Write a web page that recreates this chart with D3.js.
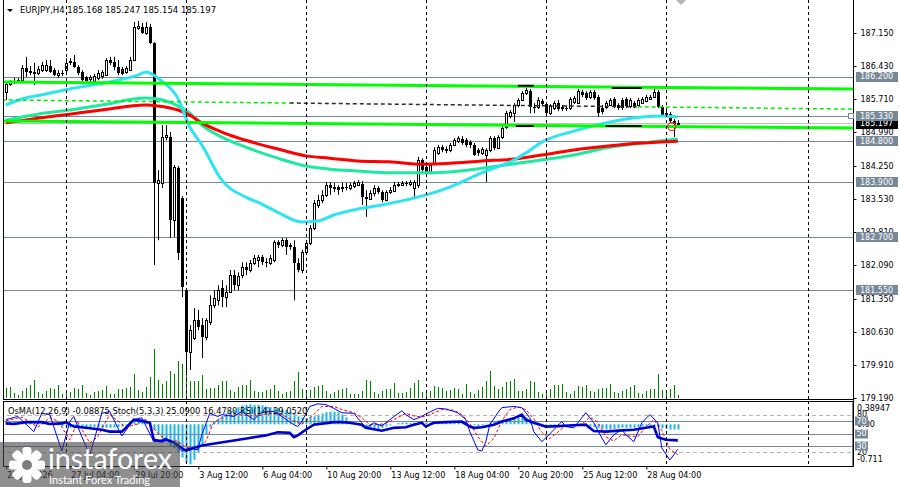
<!DOCTYPE html>
<html>
<head>
<meta charset="utf-8">
<script src="https://cdn.jsdelivr.net/npm/d3@7"></script>
<style>
body { margin: 0; background: #fff; }
svg { display: block; font-family: "DejaVu Sans", sans-serif; }
</style>
</head>
<body>
<div id="chart"></div>
<script>
// EURJPY H4 candles: [open, high, low, close]
var ohlc = [
[185.86,186.08,185.69,186.04],[186.04,186.12,186.00,186.08],[186.08,186.17,186.04,186.10],[186.10,186.17,186.08,186.12],
[186.12,186.45,186.10,186.39],[186.39,186.63,186.19,186.30],[186.32,186.43,186.23,186.28],[186.28,186.50,186.02,186.30],
[186.28,186.43,186.23,186.36],[186.34,186.52,186.30,186.45],[186.34,186.56,186.30,186.45],[186.43,186.56,186.28,186.30],
[186.34,186.39,186.21,186.23],[186.23,186.34,186.17,186.28],[186.28,186.34,186.21,186.26],[186.34,186.60,186.30,186.50],
[186.54,186.60,186.45,186.50],[186.52,186.67,186.39,186.41],[186.41,186.45,186.23,186.28],[186.30,186.34,186.10,186.12],
[186.19,186.21,186.06,186.10],[186.15,186.23,186.08,186.19],[186.10,186.26,186.06,186.21],[186.17,186.34,186.12,186.28],
[186.21,186.34,186.15,186.30],[186.23,186.60,186.21,186.56],[186.56,186.63,186.45,186.50],[186.52,186.63,186.34,186.41],
[186.41,186.56,186.23,186.28],[186.36,186.41,186.23,186.26],[186.30,186.43,186.26,186.39],[186.34,186.63,186.32,186.56],
[186.56,187.39,186.54,187.28],[187.26,187.41,187.22,187.30],[187.28,187.37,187.13,187.15],[187.15,187.39,187.11,187.28],
[187.28,187.35,186.91,186.93],[186.93,186.95,182.09,183.88],[183.88,184.16,182.63,183.94],[183.88,185.14,183.77,184.88],
[184.88,185.14,184.81,184.92],[184.88,184.99,182.68,183.07],[183.07,184.27,182.70,184.23],[184.20,184.25,182.20,182.35],
[183.55,183.59,181.39,181.61],[181.54,181.59,179.75,180.19],[180.19,180.78,179.80,180.67],[180.49,181.15,180.45,180.89],
[180.89,181.11,180.67,180.74],[180.78,180.93,180.06,180.52],[180.52,180.93,180.45,180.89],[180.84,181.43,180.78,181.21],
[181.21,181.54,181.15,181.37],[181.32,181.65,181.21,181.54],[181.59,181.76,181.17,181.39],[181.39,181.65,181.17,181.50],
[181.50,181.98,181.48,181.87],[181.87,181.98,181.54,181.65],[181.65,181.93,181.54,181.85],[181.87,182.15,181.80,182.04],
[182.04,182.15,181.87,181.98],[181.98,182.20,181.93,182.13],[182.13,182.31,182.09,182.24],[182.20,182.31,182.04,182.26],
[182.26,182.31,182.09,182.15],[182.15,182.24,182.04,182.13],[182.13,182.31,182.09,182.24],[182.20,182.63,182.15,182.59],
[182.59,182.63,182.46,182.52],[182.52,182.68,182.48,182.63],[182.63,182.68,182.31,182.48],[182.50,182.57,182.42,182.52],
[182.48,182.63,181.32,182.13],[182.13,182.24,181.93,181.98],[181.98,182.42,181.91,182.37],[182.37,182.63,182.31,182.57],
[182.57,182.96,182.52,182.90],[182.90,183.51,182.85,183.44],[183.40,183.62,183.33,183.51],[183.51,183.72,183.44,183.62],
[183.62,183.90,183.57,183.83],[183.83,183.90,183.62,183.77],[183.77,183.88,183.68,183.79],[183.79,183.83,183.62,183.72],
[183.77,183.88,183.68,183.79],[183.79,183.88,183.72,183.77],[183.77,183.88,183.72,183.83],[183.81,183.92,183.77,183.88],
[183.83,183.94,183.81,183.90],[183.85,183.92,183.40,183.57],[183.57,183.72,183.14,183.53],[183.53,183.72,183.51,183.66],
[183.66,183.83,183.59,183.77],[183.77,183.81,183.64,183.68],[183.68,183.72,183.46,183.51],[183.51,183.72,183.48,183.68],
[183.68,183.79,183.64,183.72],[183.70,183.90,183.68,183.83],[183.83,183.90,183.79,183.85],[183.83,183.92,183.81,183.88],
[183.88,183.92,183.81,183.85],[183.85,183.94,183.81,183.90],[183.77,183.94,183.57,183.90],[183.83,184.45,183.77,184.38],
[184.38,184.42,184.12,184.16],[184.23,184.27,184.07,184.12],[184.12,184.31,184.07,184.27],[184.31,184.66,184.27,184.60],
[184.53,184.71,184.49,184.66],[184.66,184.71,184.55,184.60],[184.60,184.68,184.53,184.62],[184.60,184.75,184.55,184.71],
[184.71,184.86,184.68,184.81],[184.79,184.90,184.75,184.86],[184.84,184.90,184.71,184.75],[184.81,184.86,184.66,184.71],
[184.77,184.81,184.64,184.71],[184.71,184.75,184.47,184.49],[184.60,184.64,184.47,184.53],[184.53,184.66,184.49,184.62],
[184.49,184.64,183.90,184.60],[184.60,184.90,184.55,184.86],[184.86,184.90,184.60,184.64],[184.64,184.92,184.62,184.88],
[184.88,185.12,184.84,185.08],[185.10,185.45,185.06,185.40],[185.34,185.47,185.29,185.43],[185.40,185.62,185.21,185.58],
[185.58,185.73,185.53,185.69],[185.69,185.88,185.67,185.84],[185.84,186.02,185.80,185.91],[185.88,185.93,185.40,185.53],
[185.53,185.62,185.40,185.51],[185.53,185.75,185.49,185.69],[185.67,185.71,185.56,185.60],[185.60,185.64,185.36,185.40],
[185.40,185.60,185.36,185.56],[185.51,185.67,185.47,185.62],[185.62,185.69,185.45,185.49],[185.53,185.58,185.45,185.49],
[185.51,185.56,185.45,185.49],[185.51,185.75,185.47,185.71],[185.64,185.78,185.60,185.73],[185.62,185.93,185.60,185.88],
[185.86,185.91,185.75,185.80],[185.84,185.88,185.69,185.73],[185.75,185.91,185.71,185.86],[185.86,185.91,185.69,185.73],
[185.75,185.80,185.32,185.40],[185.51,185.58,185.38,185.43],[185.53,185.67,185.49,185.62],[185.58,185.73,185.56,185.69],
[185.71,185.75,185.51,185.53],[185.58,185.62,185.47,185.51],[185.69,185.73,185.47,185.51],[185.71,185.75,185.51,185.56],
[185.56,185.73,185.51,185.69],[185.62,185.67,185.51,185.53],[185.58,185.73,185.53,185.69],[185.62,185.75,185.60,185.71],
[185.67,185.80,185.64,185.75],[185.71,185.80,185.69,185.75],[185.75,185.93,185.73,185.86],[185.86,185.91,185.51,185.53],
[185.53,185.58,185.34,185.36],[185.40,185.47,185.32,185.36],[185.38,185.43,185.19,185.23],[185.23,185.27,184.88,185.16],
[185.168,185.247,185.154,185.197]
];

// tick volume per bar (relative units)
var volumes = [10,11,5,3,7,10,13,18,6,4,7,10,9,13,4,8,6,10,9,13,5,3,6,7,8,12,4,4,9,9,10,11,24,8,6,11,21,49,18,14,
17,27,24,37,34,30,17,17,17,23,9,10,10,13,17,17,8,6,11,13,13,18,7,6,6,8,9,13,7,4,6,7,17,26,9,8,8,11,12,13,
7,4,6,8,9,10,4,4,4,7,18,17,6,4,7,9,9,15,5,5,6,10,15,18,6,5,7,12,11,10,7,8,10,9,4,14,6,4,8,11,
17,27,12,9,11,16,17,19,7,7,9,17,16,6,4,8,9,13,13,14,6,4,7,12,11,13,7,6,9,10,10,14,6,5,7,9,11,13,5,4,
7,9,9,24,8,5,9,13,3];

// moving averages, sampled [bar, price]
var maFast = [[0,185.58],[4,185.71],[10,185.82],[16,185.93],[22,186.02],[28,186.12],[33,186.23],[35,186.30],[39,186.10],
[43,185.73],[46,185.10],[49,184.71],[54,183.94],[60,183.57],[64,183.42],[68,183.24],[74,183.03],[78,183.05],[82,183.18],
[88,183.31],[94,183.40],[103,183.57],[111,183.79],[119,184.10],[127,184.38],[130,184.53],[134,184.77],[142,185.01],
[150,185.19],[159,185.32],[164,185.34],[168,185.32]];
var maMid = [[0,185.25],[8,185.38],[16,185.47],[24,185.58],[35,185.73],[38,185.71],[43,185.56],[46,185.40],[49,185.14],
[54,184.88],[60,184.66],[68,184.42],[75,184.25],[81,184.18],[88,184.14],[96,184.10],[104,184.10],[111,184.12],
[119,184.20],[128,184.31],[142,184.49],[150,184.64],[159,184.75],[168,184.84]];
var maSlow = [[0,185.19],[8,185.29],[16,185.38],[24,185.47],[35,185.58],[38,185.56],[43,185.47],[46,185.36],[49,185.19],
[54,184.99],[60,184.81],[68,184.62],[75,184.47],[81,184.42],[88,184.36],[96,184.34],[104,184.29],[111,184.31],
[119,184.36],[127,184.40],[134,184.49],[142,184.60],[150,184.68],[159,184.75],[168,184.79]];

// horizontal levels and drawn lines
var levels = [186.200, 185.330, 184.800, 183.900, 182.700, 181.550];
var bid = 185.197;
var trendLines = [[-1, 186.08, 212, 185.93], [-1, 185.23, 212, 185.08]];
var dashLine = [-1, 185.69, 212, 185.49];
var dashDark = [71, 158];
var channelMarks = [[128, 132, 186.00], [151.5, 159, 185.95], [127.5, 132, 185.12], [150, 159, 185.12]];
var marker = [166.5, 185.11];

// oscillators
var osma = [0.04,0.05,0.04,0.04,0.035,0.03,0.03,0.03,0.02,0.02,0.01,0.0,-0.01,-0.02,-0.03,-0.04,-0.06,-0.07,-0.07,-0.065,
-0.06,-0.05,-0.05,-0.05,-0.055,-0.06,-0.06,-0.055,-0.05,-0.04,-0.02,0.02,0.06,0.08,0.08,0.07,0.03,-0.10,-0.18,-0.25,
-0.30,-0.38,-0.42,-0.50,-0.58,-0.66,-0.70,-0.62,-0.50,-0.38,-0.17,-0.05,0.04,0.10,0.15,0.19,0.23,0.25,0.30,0.33,
0.34,0.35,0.34,0.34,0.33,0.31,0.30,0.29,0.28,0.26,0.25,0.22,0.18,0.14,0.12,0.11,0.13,0.14,0.17,0.19,
0.21,0.22,0.22,0.21,0.17,0.12,0.06,0.02,-0.02,-0.05,-0.08,-0.09,-0.09,-0.08,-0.06,-0.04,-0.02,0.0,0.02,0.03,
0.03,0.02,0.03,0.04,0.03,0.03,0.03,0.04,0.05,0.05,0.05,0.05,0.06,0.06,0.05,0.03,0.0,-0.02,-0.03,-0.02,
0.01,0.03,0.05,0.07,0.08,0.09,0.10,0.11,0.12,0.13,0.12,0.09,0.06,0.03,0.01,-0.01,-0.03,-0.04,-0.05,-0.05,
-0.04,-0.04,-0.03,-0.03,-0.02,-0.02,-0.03,-0.05,-0.07,-0.08,-0.09,-0.09,-0.08,-0.07,-0.06,-0.06,-0.06,-0.06,-0.05,-0.04,
-0.03,-0.03,-0.03,-0.05,-0.07,-0.08,-0.09,-0.09,-0.08875];
var stochMain = [[0,72],[3,77],[7,53],[9,82],[11,80],[14,22],[16,69],[17,77],[19,45],[21,16],[24,82],[26,85],[29,46],
[32,72],[34,75],[37,37],[39,40],[40,43],[42,35],[44,22],[46,27],[48,24],[49,48],[51,82],[53,77],[54,80],[57,77],[59,85],
[62,72],[64,84],[67,85],[69,77],[72,64],[73,61],[74,69],[76,93],[78,97],[80,96],[82,90],[84,83],[87,82],[89,67],[90,59],
[92,67],[94,62],[96,72],[99,86],[100,80],[102,72],[104,77],[105,81],[108,90],[110,89],[113,83],[115,72],[116,53],[118,24],
[119,22],[120,37],[121,64],[123,83],[124,91],[127,93],[129,91],[131,75],[132,53],[134,37],[135,43],[137,56],[139,69],
[140,61],[142,59],[144,75],[145,83],[147,67],[149,43],[150,32],[152,48],[154,56],[155,48],[157,37],[159,67],[161,80],
[163,67],[164,27],[166,8],[167,16],[168,25.09]];
var stochSignal = [[0,70],[4,76],[8,60],[11,75],[13,70],[16,40],[18,68],[21,35],[23,45],[26,80],[30,60],[33,65],[35,73],
[38,50],[40,40],[43,38],[45,28],[48,25],[50,38],[52,68],[55,78],[58,80],[61,78],[63,78],[66,82],[69,80],[72,70],[74,65],
[77,80],[79,93],[82,93],[84,88],[87,83],[89,75],[91,64],[93,64],[95,66],[97,72],[100,82],[102,78],[104,76],[106,80],
[109,88],[112,87],[114,80],[116,66],[118,45],[120,30],[122,42],[124,70],[126,88],[128,92],[130,88],[132,73],[134,52],
[136,42],[138,52],[140,63],[142,62],[144,65],[146,76],[148,68],[150,45],[152,38],[154,48],[156,46],[158,45],[160,60],
[162,72],[164,55],[166,25],[168,16.478]];
var rsi = [[0,66],[2,65],[5,68],[9,68],[11,65],[14,66],[15,68],[17,61],[20,59],[24,56],[26,53],[29,53],[30,59],[32,72],
[34,70],[36,67],[37,40],[39,37.5],[40,40],[42,36],[44,27],[45,23],[47,27],[49,31],[53,35],[57,39],[61,43],[65,47],[68,52],
[71,51],[72,44],[73,47],[75,56],[77,64],[82,68],[84,68],[86,67],[89,64],[90,59],[94,54.5],[97,59],[100,60],[102,64],
[104,67],[105,61],[107,67],[110,68],[114,69],[116,61],[117,59],[119,60],[122,64],[124,69],[127,74],[129,80],[130,72],
[132,67],[135,61],[139,62],[142,63],[145,64],[147,54],[150,53],[154,55],[157,56],[160,59],[162,61],[163,44],[165,40],
[168,39.052]];
var oscLevels = [80, 70, 50, 30, 20];

// axes
var yTicks = [187.150, 186.430, 185.710, 184.990, 184.250, 183.530, 182.810, 182.090, 181.350, 180.630, 179.910, 179.190];
var timeBars = [0, 16, 32, 48, 64, 80, 96, 112, 128, 144, 160];
var timeLabels = ["22 Jul 2026", "27 Jul 04:00", "29 Jul 20:00", "3 Aug 12:00", "6 Aug 04:00", "10 Aug 20:00",
  "13 Aug 12:00", "18 Aug 04:00", "20 Aug 20:00", "25 Aug 12:00", "28 Aug 04:00"];
var gridBars = [15, 45, 75, 105, 135, 165, 200.5];

var W = 900, H = 487;
var right = 853, mainBottom = 399, subTop = 401, subBottom = 466;
var FONT = "DejaVu Sans";

var svg = d3.select("#chart").append("svg")
    .attr("width", W).attr("height", H);

var x = d3.scaleLinear().domain([0, 168]).range([5.8, 677.8]);
var y = d3.scaleLinear().domain([179.19, 187.15]).range([398, 33]);
var yVol = d3.scaleLinear().domain([0, 50]).range([398, 348]);
var yOsc = d3.scaleLinear().domain([0, 100]).range([465, 402]);
var yOsma = d3.scaleLinear().domain([-0.711, 0.38947]).range([465, 402]);
function px(i) { return Math.round(x(i)) + 0.5; }

var defs = svg.append("defs");
defs.append("clipPath").attr("id", "clipMain").append("rect")
    .attr("x", 4).attr("y", 0).attr("width", right - 4).attr("height", mainBottom);
defs.append("clipPath").attr("id", "clipSub").append("rect")
    .attr("x", 4).attr("y", subTop + 1).attr("width", right - 4).attr("height", subBottom - subTop - 1);

var main = svg.append("g").attr("clip-path", "url(#clipMain)");
var sub = svg.append("g").attr("clip-path", "url(#clipSub)");

// week grid
gridBars.forEach(function(b) {
  [[0, mainBottom], [subTop, subBottom]].forEach(function(r) {
    svg.append("line")
      .attr("x1", px(b)).attr("x2", px(b)).attr("y1", r[0]).attr("y2", r[1])
      .attr("stroke", "#000").attr("stroke-dasharray", "3,3");
  });
});

// volumes
main.selectAll(".vol").data(volumes).enter().append("line")
    .attr("x1", function(d, i) { return px(i); })
    .attr("x2", function(d, i) { return px(i); })
    .attr("y1", yVol(0))
    .attr("y2", function(d) { return yVol(d); })
    .attr("stroke", "#008000");

// levels
main.selectAll(".lvl").data(levels).enter().append("line")
    .attr("x1", 0).attr("x2", right)
    .attr("y1", function(d) { return Math.round(y(d)) + 0.5; })
    .attr("y2", function(d) { return Math.round(y(d)) + 0.5; })
    .attr("stroke", "#778899");
main.append("line")
    .attr("x1", 0).attr("x2", right)
    .attr("y1", Math.round(y(bid)) + 0.5).attr("y2", Math.round(y(bid)) + 0.5)
    .attr("stroke", "#c0c0c0");

// candles
var candles = main.selectAll(".candle").data(ohlc).enter().append("g");
candles.append("line")
    .attr("x1", function(d, i) { return px(i); })
    .attr("x2", function(d, i) { return px(i); })
    .attr("y1", function(d) { return y(d[1]); })
    .attr("y2", function(d) { return y(d[2]); })
    .attr("stroke", "#000");
candles.append("rect")
    .attr("x", function(d, i) { return d[3] >= d[0] ? px(i) - 1 : px(i) - 1.5; })
    .attr("width", function(d) { return d[3] >= d[0] ? 2 : 3; })
    .attr("y", function(d) { return Math.round(y(Math.max(d[0], d[3]))) + (d[3] >= d[0] ? 0.5 : 0); })
    .attr("height", function(d) { return Math.max(1, Math.round(y(Math.min(d[0], d[3])) - y(Math.max(d[0], d[3])))); })
    .attr("fill", function(d) { return d[3] >= d[0] ? "#fff" : "#000"; })
    .attr("stroke", function(d) { return d[3] >= d[0] ? "#000" : "none"; });

// moving averages
var maLine = d3.line()
    .x(function(d) { return x(d[0]); })
    .y(function(d) { return y(d[1]); })
    .curve(d3.curveMonotoneX);
main.append("path").attr("d", maLine(maMid)).attr("fill", "none").attr("stroke", "#1de9a0").attr("stroke-width", 3);
main.append("path").attr("d", maLine(maSlow)).attr("fill", "none").attr("stroke", "#ff0000").attr("stroke-width", 3);
main.append("path").attr("d", maLine(maFast)).attr("fill", "none").attr("stroke", "#2ee4f2").attr("stroke-width", 3);

// drawn objects
trendLines.forEach(function(t) {
  main.append("line")
    .attr("x1", x(t[0])).attr("y1", y(t[1])).attr("x2", x(t[2])).attr("y2", y(t[3]))
    .attr("stroke", "#00ff00").attr("stroke-width", 3);
});
function dashY(b) { return y(dashLine[1] + (dashLine[3] - dashLine[1]) * (b - dashLine[0]) / (dashLine[2] - dashLine[0])); }
[[dashLine[0], dashDark[0], "#00ee00"], [dashDark[0], dashDark[1], "#1a3a1a"], [dashDark[1], dashLine[2], "#00ee00"]].forEach(function(s) {
  main.append("line")
    .attr("x1", x(s[0])).attr("y1", dashY(s[0])).attr("x2", x(s[1])).attr("y2", dashY(s[1]))
    .attr("stroke", s[2]).attr("stroke-width", 1.5).attr("stroke-dasharray", "4,3");
});
channelMarks.forEach(function(c) {
  main.append("line")
    .attr("x1", x(c[0])).attr("x2", x(c[1])).attr("y1", y(c[2])).attr("y2", y(c[2]))
    .attr("stroke", "#000").attr("stroke-width", 2);
});
main.append("circle")
    .attr("cx", x(marker[0])).attr("cy", y(marker[1])).attr("r", 4)
    .attr("fill", "none").attr("stroke", "#ff2020").attr("stroke-width", 1.2);

// indicator window
sub.selectAll(".osma").data(osma).enter().append("rect")
    .attr("x", function(d, i) { return px(i) - 1; })
    .attr("width", 2)
    .attr("y", function(d) { return Math.min(yOsma(0), yOsma(d)); })
    .attr("height", function(d) { return Math.abs(yOsma(d) - yOsma(0)); })
    .attr("fill", "#19b6f0");
oscLevels.forEach(function(l) {
  var dashed = (l === 80 || l === 20);
  sub.append("line")
    .attr("x1", 0).attr("x2", right)
    .attr("y1", Math.round(yOsc(l)) + 0.5).attr("y2", Math.round(yOsc(l)) + 0.5)
    .attr("stroke", dashed ? "#b4b4b4" : "#778899")
    .attr("stroke-dasharray", dashed ? "4,3" : null);
});
var oscLine = d3.line()
    .x(function(d) { return x(d[0]); })
    .y(function(d) { return yOsc(d[1]); });
sub.append("path").attr("d", oscLine(stochSignal)).attr("fill", "none")
    .attr("stroke", "#ff0000").attr("stroke-dasharray", "3,2");
sub.append("path").attr("d", oscLine(stochMain)).attr("fill", "none").attr("stroke", "#0000ff");
sub.append("path").attr("d", oscLine(rsi)).attr("fill", "none").attr("stroke", "#0000cc").attr("stroke-width", 2.6);

// frames
var frame = svg.append("g").attr("stroke", "#000").attr("fill", "none");
frame.append("line").attr("x1", 3.5).attr("x2", 3.5).attr("y1", 0).attr("y2", mainBottom);
frame.append("line").attr("x1", 3).attr("x2", right).attr("y1", mainBottom + 0.5).attr("y2", mainBottom + 0.5);
frame.append("rect").attr("x", 3.5).attr("y", subTop + 0.5).attr("width", right - 3.5).attr("height", subBottom - subTop);
frame.append("line").attr("x1", right + 0.5).attr("x2", right + 0.5).attr("y1", 0).attr("y2", subBottom + 0.5);

// price axis
var ay = svg.append("g")
    .attr("transform", "translate(" + (right + 0.5) + ",0)")
    .call(d3.axisRight(y).tickValues(yTicks).tickSize(3).tickSizeOuter(0).tickPadding(4).tickFormat(d3.format(".3f")))
    .attr("font-family", FONT).attr("font-size", 8);
ay.select(".domain").remove();

function tag(g, yy, w, txt, bg) {
  g.append("rect").attr("x", right + 3).attr("y", Math.round(yy) - 5).attr("width", w).attr("height", 10).attr("fill", bg);
  g.append("text").attr("x", right + 7).attr("y", yy).attr("dy", "0.35em")
    .attr("fill", "#fff").attr("font-family", FONT).attr("font-size", 8).text(txt);
}
var tags = svg.append("g");
tag(tags, y(bid) + 1, 42, bid.toFixed(3), "#000");
levels.forEach(function(l) { tag(tags, y(l), 42, l.toFixed(3), "#778899"); });
tags.append("rect").attr("x", right - 4.5).attr("y", Math.round(y(levels[1])) - 2.5)
    .attr("width", 5).attr("height", 5).attr("fill", "#fff").attr("stroke", "#778899");

// indicator scale
var sc = svg.append("g").attr("font-family", FONT).attr("font-size", 8);
[[yOsma(0.38947) + 6, "0.38947"], [yOsc(80), "80"], [yOsma(0), "0.00"], [yOsc(20), "20"], [yOsma(-0.711) - 6, "-0.711"]]
  .forEach(function(t) {
    sc.append("text").attr("x", right + 4).attr("y", t[0]).attr("dy", "0.35em").text(t[1]);
  });
[70, 50, 30].forEach(function(l) {
  sc.append("rect").attr("x", right + 2).attr("y", Math.round(yOsc(l)) - 4.5).attr("width", 13).attr("height", 9).attr("fill", "#778899");
  sc.append("text").attr("x", right + 3.5).attr("y", yOsc(l)).attr("dy", "0.35em").attr("fill", "#fff").text(l);
});

// time axis
var ax = svg.append("g")
    .attr("transform", "translate(0," + (subBottom + 0.5) + ")")
    .call(d3.axisBottom(x).tickValues(timeBars).tickSize(3).tickSizeOuter(0)
      .tickFormat(function(d, i) { return timeLabels[i]; }))
    .attr("font-family", FONT).attr("font-size", 8);
ax.select(".domain").remove();
ax.selectAll(".tick line").attr("transform", "translate(0.5,0)");
ax.selectAll("text").attr("text-anchor", "start").attr("dx", 1);

// titles
svg.append("path").attr("d", "M7,9 L13,9 L10,12 Z").attr("fill", "#000");
svg.append("text").attr("x", 20).attr("y", 13).attr("font-family", FONT).attr("font-size", 8.5)
    .text("EURJPY,H4  185.168 185.247 185.154 185.197");
svg.append("text").attr("x", 8).attr("y", 414).attr("font-family", FONT).attr("font-size", 8.3)
    .text("OsMA(12,26,9) -0.08875  Stoch(5,3,3) 25.0900 16.4780  RSI(14) 39.0520");
svg.append("path").attr("d", "M676,0 L686,0 L681,5 Z").attr("fill", "#b4b4b4");

// watermark
var wm = svg.append("g");
wm.append("rect").attr("x", 0).attr("y", 442).attr("width", 180).attr("height", 45)
    .attr("fill", "#444").attr("opacity", 0.6);
var gear = wm.append("g").attr("transform", "translate(27,465)").attr("fill", "#fff");
d3.range(8).forEach(function(k) {
  gear.append("rect").attr("x", -4.5).attr("y", -18).attr("width", 9).attr("height", 9).attr("rx", 3)
    .attr("transform", "rotate(" + (k * 45) + ")");
});
gear.append("circle").attr("r", 11);
gear.append("circle").attr("r", 5).attr("fill", "#7d7d7d");
wm.append("text").attr("x", 48).attr("y", 469).attr("font-family", "Lato, 'Open Sans', sans-serif")
    .attr("font-size", 28).attr("fill", "#fff").attr("textLength", 124).attr("lengthAdjust", "spacingAndGlyphs")
    .text("instaforex");
wm.append("text").attr("x", 49).attr("y", 484).attr("font-family", "Lato, 'Open Sans', sans-serif")
    .attr("font-size", 12).attr("fill", "#fff").attr("textLength", 101).attr("lengthAdjust", "spacingAndGlyphs")
    .text("Instant Forex Trading");
</script>
</body>
</html>
